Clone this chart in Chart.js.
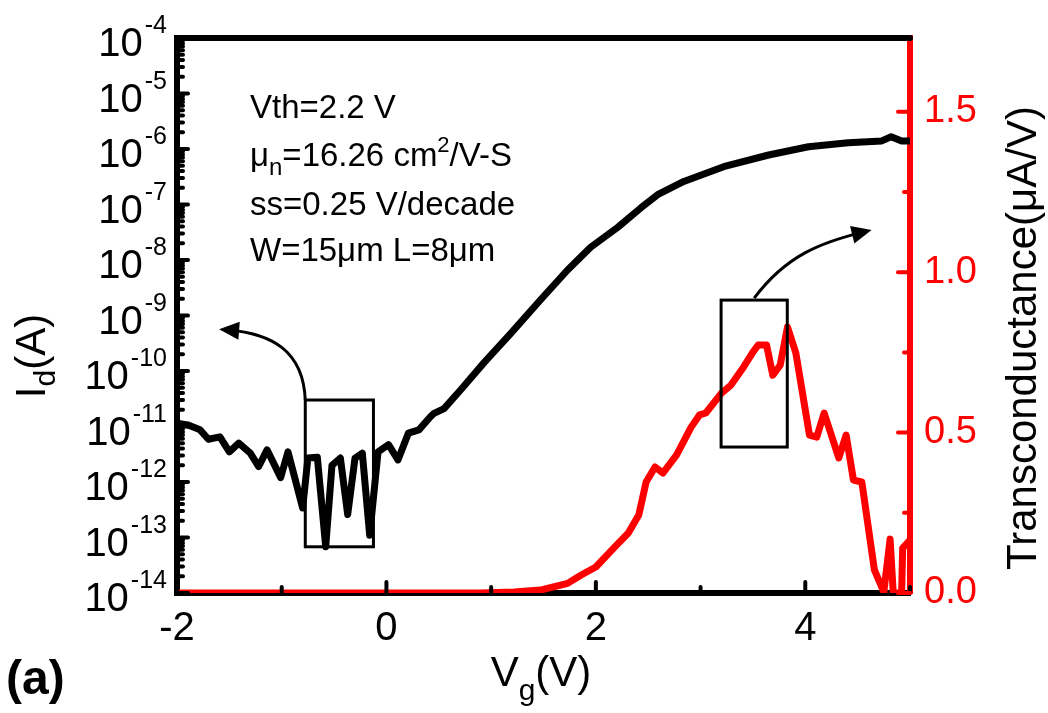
<!DOCTYPE html>
<html>
<head>
<meta charset="utf-8">
<script src="https://cdn.jsdelivr.net/npm/chart.js@4"></script>
<style>
  html, body { margin: 0; padding: 0; background: #fff; }
  #wrap { width: 1048px; height: 713px; position: relative; }
</style>
</head>
<body>
<div id="wrap"><canvas id="chart"></canvas></div>
<script>
// Id-Vg transfer curve (left axis, log)
const vgId = [-2.00, -1.90, -1.78, -1.70, -1.59, -1.50, -1.41, -1.30, -1.22, -1.14, -1.01, -0.94,
  -0.80, -0.75, -0.66, -0.58, -0.52, -0.44, -0.37, -0.30, -0.23, -0.16, -0.08, 0.02, 0.11, 0.21,
  0.31, 0.42, 0.45, 0.55, 0.71, 0.93, 1.19, 1.47, 1.73, 1.95, 2.21, 2.43, 2.59, 2.84, 3.22, 3.65,
  4.03, 4.41, 4.73, 4.82, 4.92, 5.00];
const idA = [1.15e-11, 1.07e-11, 8.7e-12, 5.9e-12, 6.5e-12, 3.5e-12, 5.0e-12, 3.3e-12, 1.9e-12, 3.8e-12, 1.2e-12, 3.5e-12,
  3.4e-13, 2.7e-12, 2.8e-12, 6.8e-14, 2.0e-12, 2.7e-12, 2.6e-13, 2.7e-12, 3.3e-12, 1.1e-13, 3.5e-12, 4.7e-12, 2.5e-12, 7.6e-12,
  8.7e-12, 1.5e-11, 1.7e-11, 2.1e-11, 4.6e-11, 1.4e-10, 4.8e-10, 1.9e-9, 6.6e-9, 1.7e-8, 3.9e-8, 8.7e-8, 1.5e-7, 2.6e-7, 4.8e-7, 7.8e-7,
  1.1e-6, 1.3e-6, 1.4e-6, 1.66e-6, 1.4e-6, 1.4e-6];

// transconductance (right axis, uA/V)
const vgGm = [-2.00, 0.90, 1.22, 1.47, 1.73, 1.86, 2.00, 2.17, 2.31, 2.41, 2.48, 2.565, 2.64, 2.77, 2.91, 2.99,
  3.05, 3.20, 3.29, 3.41, 3.50, 3.55, 3.63, 3.69, 3.76, 3.83, 3.91, 4.04, 4.11, 4.18, 4.32, 4.39, 4.46,
  4.54, 4.66, 4.75, 4.81, 4.84, 4.92, 4.93, 5.00];
const gm = [0, 0, 0.003, 0.009, 0.03, 0.056, 0.081, 0.14, 0.187, 0.243, 0.346, 0.393, 0.374, 0.43, 0.517, 0.555,
  0.561, 0.623, 0.648, 0.704, 0.751, 0.773, 0.773, 0.679, 0.71, 0.829, 0.748, 0.492, 0.486, 0.561, 0.421, 0.492, 0.352,
  0.346, 0.072, 0.003, 0.168, 0, 0, 0.14, 0.165];

// tick labels
const xTicks = [-2, 0, 2, 4];
const decades = [-14, -13, -12, -11, -10, -9, -8, -7, -6, -5, -4];
const gmTicks = [0, 0.5, 1.0, 1.5];

// device parameters written in the plot
const notes = ['Vth=2.2 V', 'mu', 'ss=0.25 V/decade', 'W=15\u03bcm L=8\u03bcm'];

// zoom boxes and arrows (data units)
const boxOff = { x0: -0.775, x1: -0.124, y0: 3.0e-11, y1: 6.8e-14 };
const boxOn = { x0: 3.196, x1: 3.828, y0: 0.913, y1: 0.455 };
const arrowOff = [[-0.775, 3.0e-11], [-0.794, 2.4e-10], [-1.11, 4.8e-10], [-1.512, 5.5e-10]];
const arrowOn = [[3.512, 0.919], [3.818, 1.053], [4.153, 1.093], [4.55, 1.125]];

const FONT = '"Liberation Sans", Arial, sans-serif';

const decor = {
  id: 'decor',
  afterDatasetsDraw(chart) {
    const ctx = chart.ctx;
    const x = chart.scales.x, yL = chart.scales.y, yR = chart.scales.y2;
    const a = chart.chartArea;
    ctx.save();
    ctx.lineCap = 'round';

    // top frame line
    ctx.strokeStyle = '#000';
    ctx.lineWidth = 6;
    ctx.beginPath();
    ctx.moveTo(a.left, a.top);
    ctx.lineTo(a.right, a.top);
    ctx.stroke();

    // inward ticks, left log axis
    ctx.lineWidth = 4;
    decades.forEach((d, i) => {
      const y = yL.getPixelForValue(Math.pow(10, d));
      ctx.beginPath(); ctx.moveTo(a.left, y); ctx.lineTo(a.left + 11, y); ctx.stroke();
      if (i < decades.length - 1) {
        for (let m = 2; m <= 9; m++) {
          const ym = yL.getPixelForValue(m * Math.pow(10, d));
          ctx.beginPath(); ctx.moveTo(a.left, ym); ctx.lineTo(a.left + 6, ym); ctx.stroke();
        }
      }
    });

    // inward ticks, bottom axis
    for (let v = -2; v <= 5; v++) {
      const px = x.getPixelForValue(v);
      const len = v % 2 === 0 ? 11 : 6;
      ctx.beginPath(); ctx.moveTo(px, a.bottom); ctx.lineTo(px, a.bottom - len); ctx.stroke();
    }

    // inward ticks, right axis
    ctx.strokeStyle = '#ff0000';
    for (let v = 0; v <= 1.5001; v += 0.25) {
      const py = yR.getPixelForValue(v);
      const len = Math.abs(v * 2 - Math.round(v * 2)) < 1e-6 ? 12 : 6;
      ctx.beginPath(); ctx.moveTo(a.right, py); ctx.lineTo(a.right - len, py); ctx.stroke();
    }

    // left tick labels 10^n
    ctx.fillStyle = '#000';
    ctx.textAlign = 'right';
    ctx.textBaseline = 'alphabetic';
    decades.forEach(d => {
      const y = yL.getPixelForValue(Math.pow(10, d));
      const exp = String(d);
      ctx.font = '25px ' + FONT;
      const ew = ctx.measureText(exp).width;
      ctx.fillText(exp, 167, y - 5);
      ctx.font = '40px ' + FONT;
      ctx.fillText('10', 167 - ew - 2, y + 18);
    });

    // zoom boxes
    ctx.strokeStyle = '#000';
    ctx.lineWidth = 3;
    ctx.lineCap = 'butt';
    ctx.lineJoin = 'miter';
    let bx0 = x.getPixelForValue(boxOff.x0), bx1 = x.getPixelForValue(boxOff.x1);
    let by0 = yL.getPixelForValue(boxOff.y0), by1 = yL.getPixelForValue(boxOff.y1);
    ctx.strokeRect(bx0, by0, bx1 - bx0, by1 - by0);
    bx0 = x.getPixelForValue(boxOn.x0); bx1 = x.getPixelForValue(boxOn.x1);
    by0 = yR.getPixelForValue(boxOn.y0); by1 = yR.getPixelForValue(boxOn.y1);
    ctx.strokeRect(bx0, by0, bx1 - bx0, by1 - by0);

    // curved arrows
    function arrow(pts, ys) {
      const p = pts.map(q => [x.getPixelForValue(q[0]), ys.getPixelForValue(q[1])]);
      ctx.lineWidth = 3;
      ctx.beginPath();
      ctx.moveTo(p[0][0], p[0][1]);
      ctx.bezierCurveTo(p[1][0], p[1][1], p[2][0], p[2][1], p[3][0], p[3][1]);
      ctx.stroke();
      const ang = Math.atan2(p[3][1] - p[2][1], p[3][0] - p[2][0]);
      const tx = p[3][0] + 9 * Math.cos(ang), ty = p[3][1] + 9 * Math.sin(ang);
      ctx.beginPath();
      ctx.moveTo(tx, ty);
      ctx.lineTo(tx - 20 * Math.cos(ang) + 9 * Math.sin(ang), ty - 20 * Math.sin(ang) - 9 * Math.cos(ang));
      ctx.lineTo(tx - 20 * Math.cos(ang) - 9 * Math.sin(ang), ty - 20 * Math.sin(ang) + 9 * Math.cos(ang));
      ctx.closePath();
      ctx.fill();
    }
    arrow(arrowOff, yL);
    arrow(arrowOn, yR);

    // parameter notes
    ctx.textAlign = 'left';
    ctx.font = '33px ' + FONT;
    const nx = 250;
    ctx.fillText(notes[0], nx, 118);
    let cx = nx;
    ctx.fillText('\u03bc', cx, 166); cx += ctx.measureText('\u03bc').width;
    ctx.font = '24px ' + FONT;
    ctx.fillText('n', cx, 175); cx += ctx.measureText('n').width;
    ctx.font = '33px ' + FONT;
    ctx.fillText('=16.26 cm', cx, 166); cx += ctx.measureText('=16.26 cm').width;
    ctx.font = '22px ' + FONT;
    ctx.fillText('2', cx, 152); cx += ctx.measureText('2').width;
    ctx.font = '33px ' + FONT;
    ctx.fillText('/V-S', cx, 166);
    ctx.fillText(notes[2], nx, 215);
    ctx.fillText(notes[3], nx, 261);

    // x title V_g(V)
    ctx.font = '42px ' + FONT;
    const w1 = ctx.measureText('V').width, w3 = ctx.measureText('(V)').width;
    ctx.font = '30px ' + FONT;
    const w2 = ctx.measureText('g').width;
    let tx0 = 541 - (w1 + w2 + w3) / 2;
    ctx.font = '42px ' + FONT;
    ctx.fillText('V', tx0, 686);
    ctx.font = '30px ' + FONT;
    ctx.fillText('g', tx0 + w1, 700);
    ctx.font = '42px ' + FONT;
    ctx.fillText('(V)', tx0 + w1 + w2, 686);

    // (a) panel mark
    ctx.font = 'bold 48px ' + FONT;
    ctx.fillText('(a)', 6, 694);

    // left title I_d(A), rotated
    ctx.save();
    ctx.translate(45, 356);
    ctx.rotate(-Math.PI / 2);
    ctx.font = '42px ' + FONT;
    const i1 = ctx.measureText('I').width, i3 = ctx.measureText('(A)').width;
    ctx.font = '30px ' + FONT;
    const i2 = ctx.measureText('d').width;
    let sx = -(i1 + i2 + i3) / 2;
    ctx.font = '42px ' + FONT;
    ctx.fillText('I', sx, 0);
    ctx.font = '30px ' + FONT;
    ctx.fillText('d', sx + i1, 10);
    ctx.font = '42px ' + FONT;
    ctx.fillText('(A)', sx + i1 + i2, 0);
    ctx.restore();

    // right title
    ctx.save();
    ctx.translate(1036, 338);
    ctx.rotate(-Math.PI / 2);
    ctx.textAlign = 'center';
    ctx.font = '42px ' + FONT;
    ctx.fillText('Transconductance(\u03bcA/V)', 0, 0);
    ctx.restore();

    ctx.restore();
  }
};

new Chart(document.getElementById('chart'), {
  type: 'line',
  data: {
    datasets: [
      {
        label: 'Id',
        data: vgId.map((v, i) => ({ x: v, y: idA[i] })),
        yAxisID: 'y',
        borderColor: '#000',
        borderWidth: 7,
        borderJoinStyle: 'round',
        borderCapStyle: 'round',
        pointRadius: 0,
        tension: 0
      },
      {
        label: 'gm',
        data: vgGm.map((v, i) => ({ x: v, y: gm[i] })),
        yAxisID: 'y2',
        borderColor: '#ff0000',
        borderWidth: 7,
        borderJoinStyle: 'round',
        borderCapStyle: 'round',
        pointRadius: 0,
        tension: 0
      }
    ]
  },
  options: {
    responsive: true,
    maintainAspectRatio: false,
    animation: false,
    layout: { padding: { top: 38, left: 0, right: 0, bottom: 0 } },
    plugins: { legend: { display: false }, tooltip: { enabled: false } },
    scales: {
      x: {
        type: 'linear',
        min: -2,
        max: 5,
        afterFit: s => { s.height = 120; },
        afterBuildTicks: s => { s.ticks = xTicks.map(v => ({ value: v })); },
        grid: { display: false, drawTicks: false },
        border: { display: true, color: '#000', width: 6 },
        ticks: {
          padding: 12,
          color: '#000',
          font: { family: FONT, size: 40 },
          callback: v => String(v)
        }
      },
      y: {
        type: 'logarithmic',
        position: 'left',
        min: 1e-14,
        max: 1e-4,
        afterFit: s => { s.width = 177; },
        afterBuildTicks: s => { s.ticks = decades.map(d => ({ value: Math.pow(10, d) })); },
        grid: { display: false, drawTicks: false },
        border: { display: true, color: '#000', width: 6 },
        ticks: { display: false }
      },
      y2: {
        type: 'linear',
        position: 'right',
        min: 0,
        max: 1.73,
        afterFit: s => { s.width = 138; },
        afterBuildTicks: s => { s.ticks = gmTicks.map(v => ({ value: v })); },
        grid: { display: false, drawTicks: false },
        border: { display: true, color: '#ff0000', width: 6 },
        ticks: {
          padding: 14,
          color: '#ff0000',
          font: { family: FONT, size: 38 },
          callback: v => Number(v).toFixed(1)
        }
      }
    }
  },
  plugins: [decor]
});
</script>
</body>
</html>
